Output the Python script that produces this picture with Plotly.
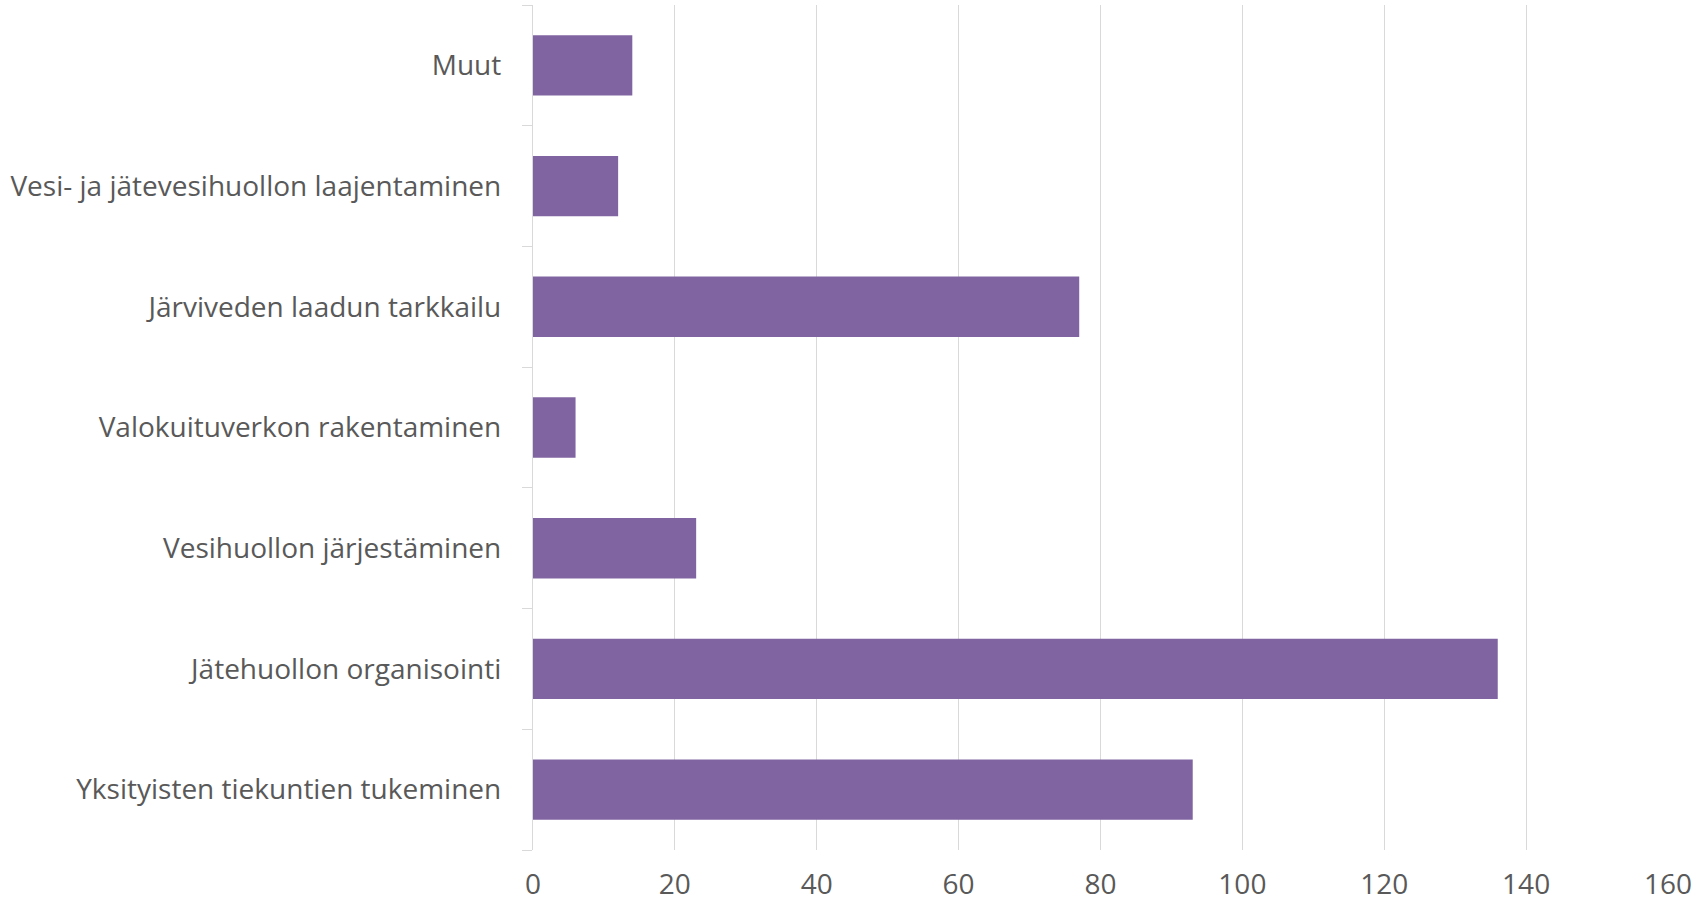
import plotly.graph_objects as go

categories = [
    "Yksityisten tiekuntien tukeminen",
    "Jätehuollon organisointi",
    "Vesihuollon järjestäminen",
    "Valokuituverkon rakentaminen",
    "Järviveden laadun tarkkailu",
    "Vesi- ja jätevesihuollon laajentaminen",
    "Muut",
]
values = [93, 136, 23, 6, 77, 12, 14]
x_ticks = [0, 20, 40, 60, 80, 100, 120, 140, 160]

FONT = "Open Sans"
FS = 28
fig = go.Figure(go.Bar(
    x=values, y=categories, orientation="h",
    marker=dict(color="#8064a2", line=dict(width=0)),
    hoverinfo="x+y",
))
fig.update_layout(
    width=1707, height=904,
    margin=dict(l=533, r=39, t=5, b=54),
    paper_bgcolor="white", plot_bgcolor="white",
    bargap=0.5,
    showlegend=False,
    font=dict(family=FONT, size=FS, color="#595959"),
    xaxis=dict(
        range=[0, 160], tickvals=x_ticks, ticktext=[str(v) for v in x_ticks],
        showgrid=True, gridcolor="#d9d9d9", gridwidth=1.3,
        zeroline=False, showline=False, ticks="",
        ticklabelstandoff=15, automargin=False,
        tickfont=dict(family=FONT, size=FS, color="#595959"),
    ),
    yaxis=dict(
        showgrid=False, zeroline=False,
        showline=True, linecolor="#d9d9d9", linewidth=1.3,
        ticks="outside", tickson="boundaries", ticklen=10,
        tickcolor="#d9d9d9", tickwidth=1.3,
        ticklabelstandoff=25, automargin=False,
        tickfont=dict(family=FONT, size=FS, color="#595959"),
    ),
)
fig.write_html("out.html", config={"displayModeBar": False},
               post_script="document.body.style.margin='0';")
